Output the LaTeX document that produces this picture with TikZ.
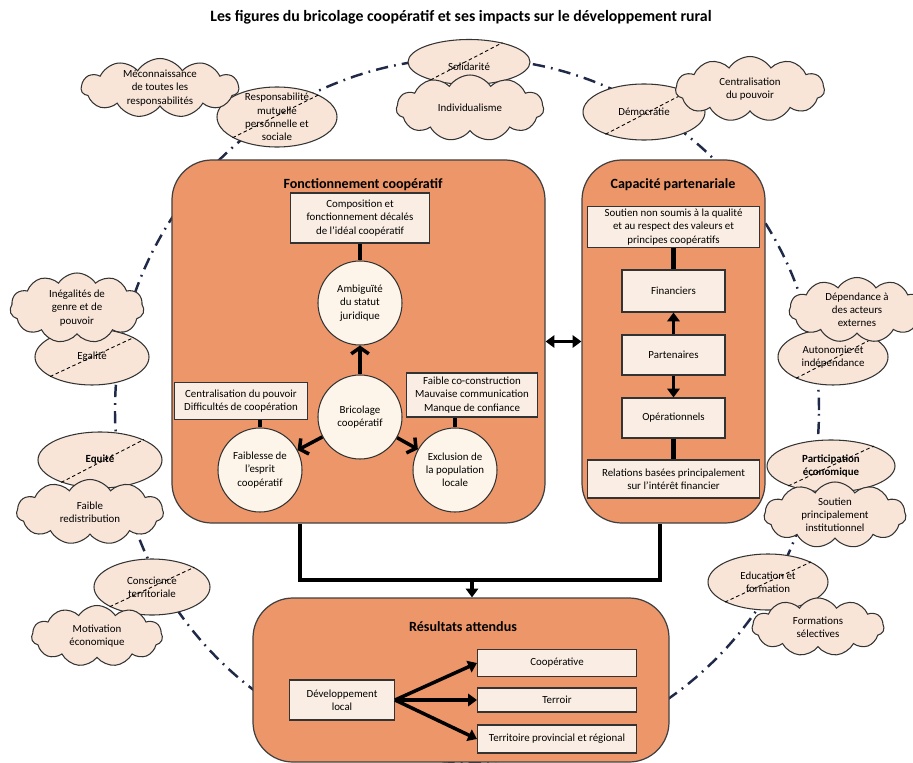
\documentclass[tikz,border=0pt]{standalone}
\usepackage{fontspec}
\setmainfont{Carlito}
\usetikzlibrary{shapes.geometric,shapes.symbols,arrows.meta}

\definecolor{orangebox}{RGB}{236,150,106}
\definecolor{creme}{RGB}{250,238,228}
\definecolor{rondfond}{RGB}{253,245,233}
\definecolor{nuagefond}{RGB}{248,229,216}
\definecolor{bleunuit}{RGB}{32,42,72}

\tikzset{
  petit/.style={font=\fontsize{6.2}{7.5}\selectfont, align=center},
  bulle/.style={ellipse, draw=black!80, line width=0.6pt, fill=nuagefond, inner sep=0pt},
  nuage/.style={cloud, cloud puffs=11, cloud puff arc=115, cloud ignores aspect,
    draw=black!80, line width=0.6pt, fill=nuagefond, inner sep=0pt},
  cadre/.style={rectangle, rounded corners=8mm, draw=black!75, line width=0.7pt, fill=orangebox},
  boite/.style={rectangle, draw=black!80, line width=0.6pt, fill=creme, inner sep=1pt, petit},
  rond/.style={circle, draw=black!80, line width=0.6pt, fill=rondfond, minimum size=16.8mm, inner sep=0pt, petit},
  titre/.style={font=\bfseries\fontsize{8}{9.5}\selectfont},
  diag/.style={line width=0.5pt, dash pattern=on 2pt off 1.5pt},
  lien/.style={line width=2.3pt},
  fleche/.style={line width=2pt, -{Triangle[length=5pt,width=7pt]}},
  chevron/.style={line width=2pt, -{Straight Barb[length=3.5pt,width=10pt]}},
  pointille/.style={draw=bleunuit, line width=1.4pt, dash pattern=on 7pt off 3.5pt on 1pt off 3.5pt},
}

\begin{document}
\begin{tikzpicture}[x=0.2mm, y=-0.2mm]
  \useasboundingbox (0,0) rectangle (913,763);

  \node[font=\bfseries\fontsize{9}{11}\selectfont] (titre) at (461,17)
    {Les figures du bricolage coopératif et ses impacts sur le développement rural};

  % grand cercle
  \draw[pointille] (467,410) circle [radius=70.4mm];

  % valeurs (ellipses)
  \node[bulle, minimum width=24mm, minimum height=12mm,
    label={[petit]center:Responsabilité\\mutuelle\\personnelle et\\sociale}] (resp) at (277,117) {};
  \node[bulle, minimum width=24.4mm, minimum height=9mm,
    label={[petit, yshift=-1mm]center:Solidarité}] (soli) at (469,62) {};
  \node[bulle, minimum width=24.4mm, minimum height=11.2mm,
    label={[petit]center:Démocratie}] (demo) at (644,112) {};
  \node[bulle, minimum width=22.8mm, minimum height=11.2mm,
    label={[petit]center:Egalité}] (egal) at (92,357) {};
  \node[bulle, minimum width=24.8mm, minimum height=11.2mm,
    label={[petit, font=\bfseries\fontsize{6.2}{7.5}\selectfont]center:Equité}] (equi) at (100,460) {};
  \node[bulle, minimum width=23.2mm, minimum height=11.2mm,
    label={[petit]center:Conscience\\territoriale}] (consc) at (152,587) {};
  \node[bulle, minimum width=22mm, minimum height=11.2mm,
    label={[petit]center:Autonomie et\\indépendance}] (auto) at (833,357) {};
  \node[bulle, minimum width=25.6mm, minimum height=10.4mm,
    label={[petit, font=\bfseries\fontsize{6.2}{7.5}\selectfont]center:Participation\\économique}] (parti) at (831,466) {};
  \node[bulle, minimum width=24mm, minimum height=11.2mm,
    label={[petit]center:Education et\\formation}] (educ) at (768,582) {};

  \draw[diag] (resp.205) -- (resp.28);
  \draw[diag] (soli.205) -- (soli.30);
  \draw[diag] (demo.210) -- (demo.25);
  \draw[diag] (egal.205) -- (egal.25);
  \draw[diag] (equi.210) -- (equi.25);
  \draw[diag] (consc.205) -- (consc.25);
  \draw[diag] (auto.210) -- (auto.25);
  \draw[diag] (parti.205) -- (parti.25);
  \draw[diag] (educ.205) -- (educ.25);

  % contraintes (nuages)
  \node[nuage, minimum width=31.5mm, minimum height=11.8mm,
    label={[petit]center:Méconnaissance\\de toutes les\\responsabilités}] (mecon) at (160,88) {};
  \node[nuage, minimum width=29.5mm, minimum height=13.2mm,
    label={[petit]center:Individualisme}] (indiv) at (470,108) {};
  \node[nuage, minimum width=29.8mm, minimum height=13mm,
    label={[petit]center:Centralisation\\du pouvoir}] (centr) at (750,89) {};
  \node[nuage, minimum width=26.8mm, minimum height=14mm,
    label={[petit]center:Inégalités de\\genre et de\\pouvoir}] (ineg) at (77,308) {};
  \node[nuage, minimum width=29.4mm, minimum height=13mm,
    label={[petit]center:Faible\\redistribution}] (redis) at (90,512) {};
  \node[nuage, minimum width=26.2mm, minimum height=12.2mm,
    label={[petit]center:Motivation\\économique}] (motiv) at (97,636) {};
  \node[nuage, minimum width=27.2mm, minimum height=13mm,
    label={[petit]center:Dépendance à\\des acteurs\\externes}] (depen) at (857,310) {};
  \node[nuage, minimum width=28.4mm, minimum height=13.2mm,
    label={[petit]center:Soutien\\principalement\\institutionnel}] (insti) at (835,515) {};
  \node[nuage, minimum width=26.4mm, minimum height=11.6mm,
    label={[petit]center:Formations\\sélectives}] (forma) at (818,627) {};

  % fonctionnement cooperatif
  \node[cadre, minimum width=74.6mm, minimum height=72.6mm] (fonc) at (358.5,341.5) {};
  \node[titre] (foncT) at (363,185) {Fonctionnement coopératif};
  \node[boite, minimum width=27.8mm, minimum height=10mm] (compo) at (360,218)
    {Composition et\\fonctionnement décalés\\de l’idéal coopératif};
  \node[rond] (ambi) at (360,303) {Ambiguïté\\du statut\\juridique};
  \node[rond] (bric) at (360,417) {Bricolage\\coopératif};
  \node[rond] (faib) at (260,470) {Faiblesse de\\l’esprit\\coopératif};
  \node[rond] (excl) at (455,470) {Exclusion de\\la population\\locale};
  \node[boite, minimum width=26.6mm, minimum height=7.4mm] (centrB) at (241,401)
    {Centralisation du pouvoir\\Difficultés de coopération};
  \node[boite, minimum width=26.2mm, minimum height=8.8mm] (commB) at (472,395)
    {Faible co-construction\\Mauvaise communication\\Manque de confiance};

  \draw[lien] (compo) -- (ambi);
  \draw[lien] (faib.north) -- (faib.north |- centrB.south);
  \draw[lien] (excl.north) -- (excl.north |- commB.south);
  \draw[chevron] (bric) -- (ambi);
  \draw[chevron] (bric) -- (faib);
  \draw[chevron] (bric) -- (excl);

  % capacite partenariale
  \node[cadre, minimum width=36.6mm, minimum height=72.6mm] (capa) at (673.5,341.5) {};
  \node[titre] (capaT) at (673,185) {Capacité partenariale};
  \node[boite, minimum width=34.4mm, minimum height=8.2mm] (souti) at (673.5,227)
    {Soutien non soumis à la qualité\\et au respect des valeurs et\\principes coopératifs};
  \node[boite, minimum width=20.6mm, minimum height=8.4mm] (finan) at (673.5,291) {Financiers};
  \node[boite, minimum width=20.6mm, minimum height=8mm] (parte) at (673.5,355) {Partenaires};
  \node[boite, minimum width=20.6mm, minimum height=8mm] (opera) at (673.5,418) {Opérationnels};
  \node[boite, minimum width=34.4mm, minimum height=7.6mm] (relat) at (673.5,479)
    {Relations basées principalement\\sur l’intérêt financier};

  \draw[lien] (souti) -- (finan);
  \draw[fleche] (parte) -- (finan);
  \draw[fleche] (parte) -- (opera);
  \draw[lien] (opera) -- (relat);

  \draw[line width=1.5pt, {Triangle[length=5pt,width=7pt]}-{Triangle[length=5pt,width=7pt]}]
    (fonc.east) -- (capa.west);

  % resultats
  \node[cadre, minimum width=83.2mm, minimum height=32.8mm] (resu) at (461,680) {};
  \node[titre] (resuT) at (463,627) {Résultats attendus};
  \node[boite, minimum width=21mm, minimum height=8mm] (devel) at (342,700) {Développement\\local};
  \node[boite, minimum width=31.8mm, minimum height=5.4mm] (coop) at (557,663) {Coopérative};
  \node[boite, minimum width=31.8mm, minimum height=4.8mm] (terr) at (557,700) {Terroir};
  \node[boite, minimum width=31.8mm, minimum height=5.6mm] (terri) at (557,739) {Territoire provincial et régional};

  \draw[fleche] (devel.east) -- (coop.west);
  \draw[fleche] (devel.east) -- (terr.west);
  \draw[fleche] (devel.east) -- (terri.west);

  \coordinate (jg) at (300,580);
  \coordinate (jd) at (660,580);
  \coordinate (jm) at (472,580);
  \draw[lien] (fonc.south -| jg) -- (jg) -- (jd) -- (capa.south -| jd);
  \draw[fleche] (jm) -- (resu.north -| jm);
\end{tikzpicture}
\end{document}
